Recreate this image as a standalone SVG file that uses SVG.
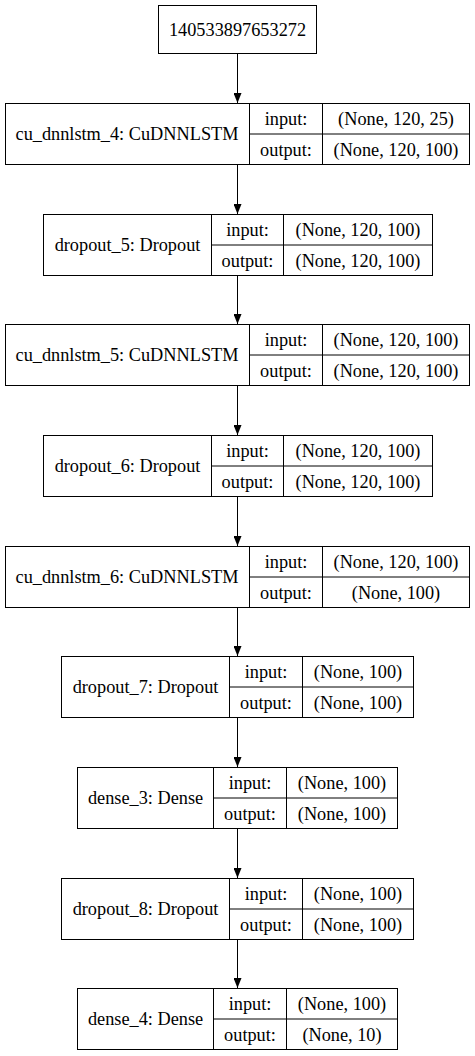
<svg xmlns="http://www.w3.org/2000/svg" width="475" height="1056" viewBox="0 0 475 1056">
<style>
.bg{fill:#ffffff}
.box{fill:#ffffff;stroke:#000000;stroke-width:1}
.ln{stroke:#000000;stroke-width:1;fill:none}
.edge{stroke:#000000;stroke-width:1;fill:none;marker-end:url(#arr)}
text{font-family:"Liberation Serif","Times New Roman",serif;font-size:18.3px;text-anchor:middle;fill:#000000}
</style>
<defs>
<marker id="arr" viewBox="0 0 10 8" refX="10" refY="4" markerWidth="10" markerHeight="8" markerUnits="userSpaceOnUse" orient="auto">
<path d="M0,0 L10,4 L0,8 z" fill="#000000"/>
</marker>
</defs>
<rect class="bg" x="0" y="0" width="475" height="1056"/>

<g id="connectors">
<path class="edge" d="M237.5,53 V103"/>
<path class="edge" d="M237.5,164 V214"/>
<path class="edge" d="M237.5,275 V324"/>
<path class="edge" d="M237.5,385 V435"/>
<path class="edge" d="M237.5,496 V546"/>
<path class="edge" d="M237.5,607 V656"/>
<path class="edge" d="M237.5,717 V767"/>
<path class="edge" d="M237.5,828 V878"/>
<path class="edge" d="M237.5,939 V988"/>
</g>

<g id="input_node">
<rect class="box" x="158.5" y="5.5" width="158" height="48"/>
<text x="237.5" y="35.5">140533897653272</text>
</g>

<g id="cu_dnnlstm_4">
<rect class="box" x="5.5" y="103.5" width="464" height="61"/>
<path class="ln" d="M249.5,103.5 V164.5 M322.5,103.5 V164.5 M249.5,134 H469.5"/>
<text x="127" y="140">cu_dnnlstm_4: CuDNNLSTM</text>
<text x="286" y="124.5">input:</text>
<text x="286" y="155.5">output:</text>
<text x="396" y="124.5">(None, 120, 25)</text>
<text x="396" y="155.5">(None, 120, 100)</text>
</g>

<g id="dropout_5">
<rect class="box" x="43.5" y="214.5" width="389" height="61"/>
<path class="ln" d="M211.5,214.5 V275.5 M283.5,214.5 V275.5 M211.5,245 H432.5"/>
<text x="127.5" y="251">dropout_5: Dropout</text>
<text x="247.5" y="235.5">input:</text>
<text x="247.5" y="266.5">output:</text>
<text x="358" y="235.5">(None, 120, 100)</text>
<text x="358" y="266.5">(None, 120, 100)</text>
</g>

<g id="cu_dnnlstm_5">
<rect class="box" x="5.5" y="324.5" width="464" height="61"/>
<path class="ln" d="M249.5,324.5 V385.5 M322.5,324.5 V385.5 M249.5,355 H469.5"/>
<text x="127" y="361">cu_dnnlstm_5: CuDNNLSTM</text>
<text x="286" y="345.5">input:</text>
<text x="286" y="376.5">output:</text>
<text x="396" y="345.5">(None, 120, 100)</text>
<text x="396" y="376.5">(None, 120, 100)</text>
</g>

<g id="dropout_6">
<rect class="box" x="43.5" y="435.5" width="389" height="61"/>
<path class="ln" d="M211.5,435.5 V496.5 M283.5,435.5 V496.5 M211.5,466 H432.5"/>
<text x="127.5" y="472">dropout_6: Dropout</text>
<text x="247.5" y="456.5">input:</text>
<text x="247.5" y="487.5">output:</text>
<text x="358" y="456.5">(None, 120, 100)</text>
<text x="358" y="487.5">(None, 120, 100)</text>
</g>

<g id="cu_dnnlstm_6">
<rect class="box" x="5.5" y="546.5" width="464" height="61"/>
<path class="ln" d="M249.5,546.5 V607.5 M322.5,546.5 V607.5 M249.5,577 H469.5"/>
<text x="127" y="583">cu_dnnlstm_6: CuDNNLSTM</text>
<text x="286" y="567.5">input:</text>
<text x="286" y="598.5">output:</text>
<text x="396" y="567.5">(None, 120, 100)</text>
<text x="396" y="598.5">(None, 100)</text>
</g>

<g id="dropout_7">
<rect class="box" x="61.5" y="656.5" width="352" height="61"/>
<path class="ln" d="M229.5,656.5 V717.5 M302.5,656.5 V717.5 M229.5,687 H413.5"/>
<text x="145.5" y="693">dropout_7: Dropout</text>
<text x="266" y="677.5">input:</text>
<text x="266" y="708.5">output:</text>
<text x="358" y="677.5">(None, 100)</text>
<text x="358" y="708.5">(None, 100)</text>
</g>

<g id="dense_3">
<rect class="box" x="77.5" y="767.5" width="320" height="61"/>
<path class="ln" d="M213.5,767.5 V828.5 M286.5,767.5 V828.5 M213.5,798 H397.5"/>
<text x="145.5" y="804">dense_3: Dense</text>
<text x="250" y="788.5">input:</text>
<text x="250" y="819.5">output:</text>
<text x="342" y="788.5">(None, 100)</text>
<text x="342" y="819.5">(None, 100)</text>
</g>

<g id="dropout_8">
<rect class="box" x="61.5" y="878.5" width="352" height="61"/>
<path class="ln" d="M229.5,878.5 V939.5 M302.5,878.5 V939.5 M229.5,909 H413.5"/>
<text x="145.5" y="915">dropout_8: Dropout</text>
<text x="266" y="899.5">input:</text>
<text x="266" y="930.5">output:</text>
<text x="358" y="899.5">(None, 100)</text>
<text x="358" y="930.5">(None, 100)</text>
</g>

<g id="dense_4">
<rect class="box" x="77.5" y="988.5" width="320" height="61"/>
<path class="ln" d="M213.5,988.5 V1049.5 M286.5,988.5 V1049.5 M213.5,1019 H397.5"/>
<text x="145.5" y="1025">dense_4: Dense</text>
<text x="250" y="1009.5">input:</text>
<text x="250" y="1040.5">output:</text>
<text x="342" y="1009.5">(None, 100)</text>
<text x="342" y="1040.5">(None, 10)</text>
</g>
</svg>
